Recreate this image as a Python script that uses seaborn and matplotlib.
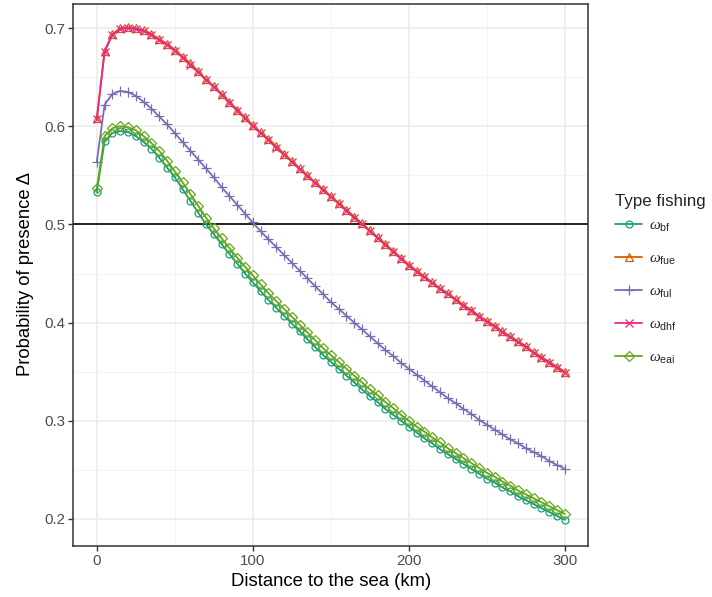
import numpy as np
import pandas as pd
import matplotlib
matplotlib.use("Agg")
import matplotlib.pyplot as plt
import seaborn as sns

# distance to the sea (km), one value every 5 km
distance = np.arange(0, 301, 5)

# probability of presence
p_bf = [0.533, 0.585, 0.593, 0.595, 0.594, 0.590, 0.584, 0.577, 0.568, 0.558,
        0.548, 0.536, 0.524, 0.512, 0.500, 0.490, 0.480, 0.470, 0.460, 0.450,
        0.441, 0.432, 0.423, 0.415, 0.407, 0.399, 0.391, 0.383, 0.375, 0.367,
        0.360, 0.353, 0.346, 0.339, 0.332, 0.325, 0.319, 0.312, 0.306, 0.300,
        0.294, 0.288, 0.282, 0.277, 0.271, 0.266, 0.261, 0.256, 0.251, 0.246,
        0.241, 0.237, 0.232, 0.228, 0.223, 0.219, 0.215, 0.211, 0.207, 0.203,
        0.199]
p_fue = [0.608, 0.677, 0.694, 0.700, 0.701, 0.700, 0.698, 0.694, 0.689, 0.684,
         0.678, 0.671, 0.664, 0.656, 0.648, 0.641, 0.633, 0.625, 0.617, 0.609,
         0.601, 0.594, 0.587, 0.580, 0.572, 0.565, 0.557, 0.550, 0.543, 0.536,
         0.529, 0.522, 0.515, 0.508, 0.501, 0.494, 0.487, 0.480, 0.473, 0.466,
         0.459, 0.453, 0.447, 0.441, 0.435, 0.430, 0.424, 0.418, 0.413, 0.407,
         0.402, 0.397, 0.391, 0.386, 0.381, 0.376, 0.370, 0.365, 0.360, 0.355,
         0.350]
p_ful = [0.564, 0.622, 0.633, 0.636, 0.635, 0.631, 0.625, 0.618, 0.610, 0.602,
         0.593, 0.584, 0.575, 0.566, 0.557, 0.548, 0.538, 0.529, 0.520, 0.511,
         0.502, 0.493, 0.485, 0.477, 0.469, 0.461, 0.453, 0.445, 0.437, 0.429,
         0.421, 0.414, 0.407, 0.400, 0.393, 0.386, 0.379, 0.372, 0.366, 0.359,
         0.353, 0.347, 0.341, 0.335, 0.329, 0.323, 0.318, 0.312, 0.307, 0.301,
         0.296, 0.291, 0.286, 0.281, 0.277, 0.272, 0.268, 0.264, 0.259, 0.255,
         0.251]
p_dhf = [0.607, 0.676, 0.693, 0.699, 0.700, 0.699, 0.697, 0.693, 0.688, 0.683,
         0.677, 0.670, 0.662, 0.655, 0.647, 0.640, 0.632, 0.624, 0.616, 0.608,
         0.600, 0.593, 0.586, 0.578, 0.571, 0.564, 0.556, 0.549, 0.542, 0.535,
         0.528, 0.521, 0.514, 0.507, 0.500, 0.493, 0.486, 0.479, 0.472, 0.465,
         0.458, 0.452, 0.446, 0.440, 0.434, 0.429, 0.423, 0.417, 0.412, 0.406,
         0.401, 0.396, 0.390, 0.385, 0.380, 0.375, 0.369, 0.364, 0.359, 0.354,
         0.349]
p_eai = [0.537, 0.590, 0.598, 0.600, 0.599, 0.596, 0.590, 0.583, 0.575, 0.565,
         0.554, 0.543, 0.531, 0.519, 0.507, 0.496, 0.486, 0.476, 0.466, 0.457,
         0.448, 0.439, 0.430, 0.422, 0.414, 0.406, 0.398, 0.390, 0.382, 0.374,
         0.367, 0.360, 0.353, 0.346, 0.339, 0.332, 0.326, 0.319, 0.313, 0.306,
         0.300, 0.294, 0.289, 0.283, 0.278, 0.272, 0.267, 0.262, 0.257, 0.252,
         0.247, 0.243, 0.238, 0.234, 0.229, 0.225, 0.221, 0.217, 0.213, 0.209,
         0.205]

series_names = ["bf", "fue", "ful", "dhf", "eai"]
series_vals = [p_bf, p_fue, p_ful, p_dhf, p_eai]
colors = ["#1B9E77", "#D95F02", "#7570B3", "#E7298A", "#66A61E"]
markers = ["o", "^", "+", "x", "D"]
msizes = [5, 5.5, 7, 5.5, 4.6]

sns.set_theme(style="whitegrid")
plt.rcParams['font.family'] = ['Liberation Sans', 'DejaVu Sans']
plt.rcParams['mathtext.fontset'] = 'custom'
plt.rcParams['mathtext.rm'] = 'Liberation Sans'
plt.rcParams['mathtext.it'] = 'Liberation Serif:italic'

fig = plt.figure(figsize=(7.12, 5.97), dpi=100)
ax = fig.add_axes([73.4 / 712, 1 - 545.5 / 597, (588.2 - 73.4) / 712, (545.5 - 3.5) / 597])

for name, vals, c, m, ms in zip(series_names, series_vals, colors, markers, msizes):
    sns.lineplot(x=distance, y=vals, color=c, marker=m, markersize=ms,
                 mfc="none", mec=c, mew=0.9, linewidth=1.3, ax=ax,
                 label=r"$\omega_{\mathrm{%s}}$" % name)

ax.axhline(0.5, color="black", linewidth=1.2, zorder=1)

ax.set_xlim(-15, 315)
ax.set_ylim(0.1729, 0.7251)
ax.set_xticks([0, 100, 200, 300])
ax.set_xticks([50, 150, 250], minor=True)
ax.set_yticks([0.2, 0.3, 0.4, 0.5, 0.6, 0.7])
ax.set_yticks([0.25, 0.35, 0.45, 0.55, 0.65], minor=True)
ax.grid(which="major", color="#EBEBEB", linewidth=1.1)
ax.grid(which="minor", color="#F0F0F0", linewidth=0.55)
ax.set_axisbelow(True)
ax.set_facecolor("white")
for s in ax.spines.values():
    s.set_color("#333333")
    s.set_linewidth(1.1)
ax.tick_params(which="major", direction="out", length=3.5, width=1.0,
               color="#333333", labelcolor="#4D4D4D", labelsize=10.8, pad=2.5,
               bottom=True, left=True)
ax.tick_params(which="minor", length=0)

ax.set_xlabel("Distance to the sea (km)", fontsize=13.3, color="black", labelpad=4)
ax.set_ylabel("Probability of presence Δ", fontsize=13.3, color="black", labelpad=7)

leg = ax.legend(loc="center left", bbox_to_anchor=(1.025, 0.49), frameon=False,
                title="Type fishing", fontsize=11, title_fontsize=12.2,
                handlelength=1.8, handletextpad=0.45, labelspacing=1.17,
                alignment="left")
leg._legend_box.sep = 7

fig.savefig("out.png", dpi=100)
